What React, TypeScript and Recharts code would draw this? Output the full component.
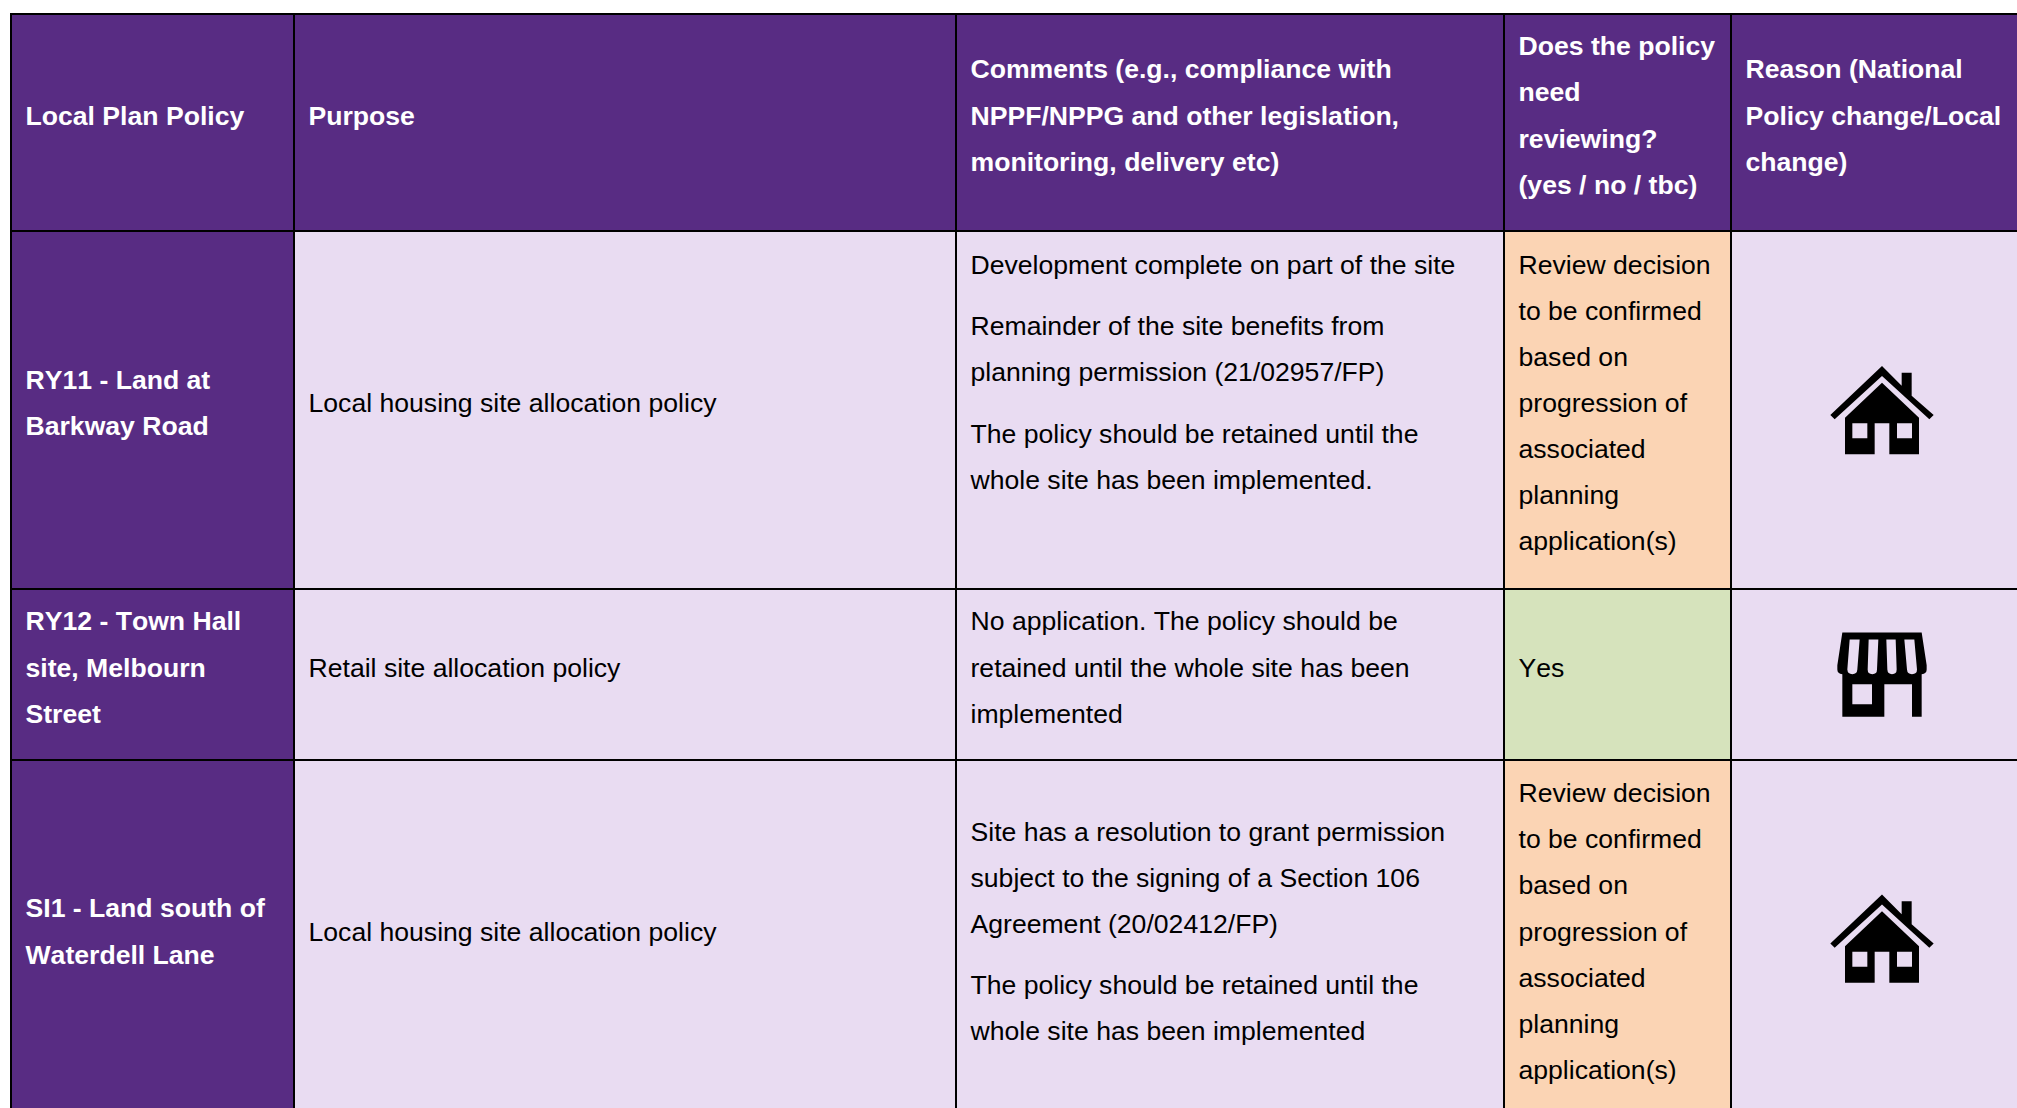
import React from "react";
import { ScatterChart, Scatter, XAxis, YAxis, ReferenceArea, ReferenceLine } from "recharts";

const columnEdges = [11, 294, 956, 1504, 1731, 2033];
const rowEdges = [14, 231, 589, 760, 1117];

const headerCells: string[][][] = [
  [["Local Plan Policy"]],
  [["Purpose"]],
  [["Comments (e.g., compliance with", "NPPF/NPPG and other legislation,", "monitoring, delivery etc)"]],
  [["Does the policy", "need", "reviewing?", "(yes / no / tbc)"]],
  [["Reason (National", "Policy change/Local", "change)"]],
];
const policyNames: string[][][] = [
  [["RY11 - Land at", "Barkway Road"]],
  [["RY12 - Town Hall", "site, Melbourn", "Street"]],
  [["SI1 - Land south of", "Waterdell Lane"]],
];
const purposes: string[][][] = [
  [["Local housing site allocation policy"]],
  [["Retail site allocation policy"]],
  [["Local housing site allocation policy"]],
];
const comments: string[][][] = [
  [
    ["Development complete on part of the site"],
    ["Remainder of the site benefits from", "planning permission (21/02957/FP)"],
    ["The policy should be retained until the", "whole site has been implemented."],
    [""],
  ],
  [["No application. The policy should be", "retained until the whole site has been", "implemented"]],
  [
    ["Site has a resolution to grant permission", "subject to the signing of a Section 106", "Agreement (20/02412/FP)"],
    ["The policy should be retained until the", "whole site has been implemented"],
  ],
];
const decisions: string[][][] = [
  [["Review decision", "to be confirmed", "based on", "progression of", "associated", "planning", "application(s)"]],
  [["Yes"]],
  [["Review decision", "to be confirmed", "based on", "progression of", "associated", "planning", "application(s)"]],
];
const decisionKinds = ["tbc", "yes", "tbc"];
const reasonIcons = ["house", "store", "house"];

const PURPLE = "#582C83";
const LILAC = "#E9DCF2";
const decisionFill: Record<string, string> = { tbc: "#FBD4B4", yes: "#D6E3BC" };

const FONT = "'Liberation Sans', Arial, sans-serif";
const FONT_SIZE = 26.6;
const LINE = 46.1;
const PARA_GAP = 15.4;
const PAD_X = 14.5;
const BLOCK_SHIFT = -8;
const BASELINE = 10;

type TextPoint = { x: number; y: number; text: string; bold: boolean; color: string };

function layoutCell(paragraphs: string[][], col: number, row: number, bold: boolean, color: string): TextPoint[] {
  const lineCount = paragraphs.reduce((s, p) => s + p.length, 0);
  const height = (lineCount - 1) * LINE + (paragraphs.length - 1) * PARA_GAP;
  const mid = (rowEdges[row] + rowEdges[row + 1]) / 2 + BLOCK_SHIFT;
  let y = mid - height / 2 + BASELINE;
  const out: TextPoint[] = [];
  paragraphs.forEach((p) => {
    p.forEach((text) => {
      if (text) out.push({ x: columnEdges[col] + PAD_X, y, text, bold, color });
      y += LINE;
    });
    y += PARA_GAP;
  });
  return out;
}

const textPoints: TextPoint[] = [
  ...headerCells.flatMap((c, i) => layoutCell(c, i, 0, true, "#FFFFFF")),
  ...policyNames.flatMap((c, i) => layoutCell(c, 0, i + 1, true, "#FFFFFF")),
  ...purposes.flatMap((c, i) => layoutCell(c, 1, i + 1, false, "#000000")),
  ...comments.flatMap((c, i) => layoutCell(c, 2, i + 1, false, "#000000")),
  ...decisions.flatMap((c, i) => layoutCell(c, 3, i + 1, false, "#000000")),
];

const iconPoints = reasonIcons.map((icon, i) => ({
  x: (columnEdges[4] + columnEdges[5]) / 2,
  y: (rowEdges[i + 1] + rowEdges[i + 2]) / 2,
  icon,
}));

const HOUSE =
  "M0 -132 L59 -73 L59 -112 L89 -112 L89 -43 L155 15 L142 28 L0 -102 L-142 28 L-155 15 Z " +
  "M0 -82 L111 23 L111 133 L22 133 L22 40 L-22 40 L-22 133 L-111 133 L-111 23 Z " +
  "M-89 40 L-89 85 L-44 85 L-44 40 Z M45 40 L45 85 L90 85 L90 40 Z";

const STORE =
  "M-119 -126 L119 -126 L134 -28 L134 -15 Q134 -2 119 -1 L119 127 L90 127 L90 29 L7 29 L7 127 L-119 127 L-119 -1 " +
  "Q-134 -2 -134 -15 L-134 -28 Z " +
  "M-97 -105 L-104 -15 Q-103 -1 -89 -1 Q-75 -1 -74 -15 L-67 -105 Z " +
  "M-40 -105 L-43 -15 Q-43 -1 -29 -1 Q-15 -1 -15 -15 L-11 -105 Z " +
  "M13 -105 L16 -15 Q17 -1 30 -1 Q44 -1 44 -15 L41 -105 Z " +
  "M67 -105 L75 -15 Q76 -1 90 -1 Q105 -1 105 -15 L97 -105 Z " +
  "M-89 29 L-89 89 L-30 89 L-30 29 Z";

const TextShape = (p: any) => (
  <text
    x={p.cx}
    y={p.cy}
    fontFamily={FONT}
    fontSize={FONT_SIZE}
    fontWeight={p.payload.bold ? 700 : 400}
    fill={p.payload.color}
    style={{ fontKerning: "none" }}
  >
    {p.payload.text}
  </text>
);

const IconShape = (p: any) => (
  <g transform={`translate(${p.cx},${p.cy}) scale(${1 / 3})`}>
    <path d={p.payload.icon === "house" ? HOUSE : STORE} fill="#000" fillRule="evenodd" />
  </g>
);

const rowIdx = [0, 1, 2, 3];
const colIdx = [0, 1, 2, 3, 4];

function cellFill(r: number, c: number) {
  if (r === 0 || c === 0) return PURPLE;
  if (c === 3) return decisionFill[decisionKinds[r - 1]];
  return LILAC;
}

export default function App() {
  const top = rowEdges[0];
  const bottom = rowEdges[rowEdges.length - 1];
  const left = columnEdges[0];
  const right = columnEdges[columnEdges.length - 1];
  return (
    <div style={{ position: "absolute", left: 0, top: 0, width: 2017, height: 1108, background: "#fff" }}>
      <ScatterChart width={2017} height={1108} margin={{ top: 0, right: 0, bottom: 0, left: 0 }}>
        <XAxis type="number" dataKey="x" domain={[0, 2017]} hide />
        <YAxis type="number" dataKey="y" domain={[0, 1108]} reversed hide />
        {rowIdx.flatMap((r) =>
          colIdx.map((c) => (
            <ReferenceArea
              key={`cell-${r}-${c}`}
              x1={columnEdges[c]}
              x2={columnEdges[c + 1]}
              y1={rowEdges[r]}
              y2={rowEdges[r + 1]}
              fill={cellFill(r, c)}
              fillOpacity={1}
              stroke="none"
              ifOverflow="visible"
            />
          ))
        )}
        {columnEdges.slice(0, -1).map((x) => (
          <ReferenceLine
            key={`v-${x}`}
            segment={[{ x, y: top }, { x, y: bottom }]}
            stroke="#000"
            strokeWidth={2}
            ifOverflow="visible"
          />
        ))}
        {rowEdges.slice(0, -1).map((y) => (
          <ReferenceLine
            key={`h-${y}`}
            segment={[{ x: left - 1, y }, { x: right, y }]}
            stroke="#000"
            strokeWidth={2}
            ifOverflow="visible"
          />
        ))}
        <Scatter data={iconPoints} shape={IconShape} isAnimationActive={false} />
        <Scatter data={textPoints} shape={TextShape} isAnimationActive={false} />
      </ScatterChart>
    </div>
  );
}
